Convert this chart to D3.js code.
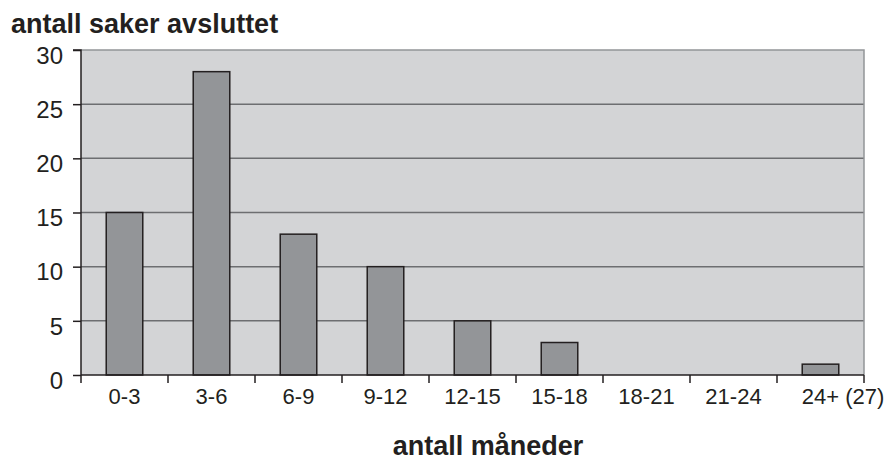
<!DOCTYPE html>
<html><head><meta charset="utf-8">
<script src="https://cdn.jsdelivr.net/npm/d3@7"></script>
<style>body{margin:0;background:#fff}svg{display:block;font-family:"Liberation Sans",Arial,sans-serif}</style>
</head><body><svg id="c" width="889" height="462"></svg>
<script>
const categories = ["0-3","3-6","6-9","9-12","12-15","15-18","18-21","21-24","24+ (27)"];
const values = [15,28,13,10,5,3,0,0,1];
const yTicks = [0,5,10,15,20,25,30];
const yTitle = "antall saker avsluttet";
const xTitle = "antall måneder";

const svg = d3.select("#c");
const L=81,R=864,T=50,B=375;
const x = d3.scaleBand().domain(categories).range([L,R]).paddingInner(0.58).paddingOuter(0.29);
const y = d3.scaleLinear().domain([0,30]).range([B,T]);

svg.append("rect").attr("x",L).attr("y",T).attr("width",R-L).attr("height",B-T).attr("fill","#d3d4d6");
svg.append("g").selectAll("line").data(yTicks.filter(d=>d>0&&d<30)).join("line")
 .attr("x1",L).attr("x2",R).attr("y1",d=>y(d)).attr("y2",d=>y(d))
 .attr("stroke","#6d6e71").attr("stroke-width",1.5);
svg.append("path").attr("d",`M${L},${y(30)}H${R}V${B}`).attr("fill","none").attr("stroke","#939598").attr("stroke-width",1.5);
svg.append("g").selectAll("rect").data(values).join("rect")
 .attr("x",(d,i)=>x(categories[i])).attr("width",x.bandwidth())
 .attr("y",d=>y(d)).attr("height",d=>y(0)-y(d))
 .attr("fill","#939598").attr("stroke","#231f20").attr("stroke-width",1.5);
const yAxis = d3.axisLeft(y).tickValues(yTicks).tickSize(8).tickPadding(10);
const gy = svg.append("g").attr("transform",`translate(${L},0)`).call(yAxis);
gy.select(".domain").attr("stroke","#231f20").attr("stroke-width",1.5).attr("d",`M-8,${y(30)}H0V${B}`);
gy.selectAll(".tick line").attr("stroke","#231f20").attr("stroke-width",1.5);
gy.selectAll(".tick text").attr("font-size",24).attr("fill","#231f20").attr("font-family","Liberation Sans, Arial, sans-serif").attr("dy","0.72em").attr("y",-4).attr("x",-18);
svg.append("line").attr("x1",L).attr("x2",R).attr("y1",B).attr("y2",B).attr("stroke","#231f20").attr("stroke-width",1.5);
const bounds = d3.range(categories.length+1).map(i=>L+i*x.step());
svg.append("g").selectAll("line").data(bounds).join("line")
 .attr("x1",d=>d).attr("x2",d=>d).attr("y1",B).attr("y2",B+8).attr("stroke","#231f20").attr("stroke-width",1.5);
const xl = svg.append("g").selectAll("text").data(categories).join("text")
 .attr("y",404).attr("font-size",22).attr("fill","#231f20").text(d=>d);
xl.each(function(d){
  const t=d3.select(this); const c = x(d)+x.bandwidth()/2;
  if(d.indexOf(" (")>0){
    const tmp = svg.append("text").attr("font-size",22).text(d.split(" ")[0]);
    const w = tmp.node().getComputedTextLength(); tmp.remove();
    t.attr("x",c-w/2).attr("text-anchor","start");
  } else t.attr("x",c).attr("text-anchor","middle");
});
svg.append("text").attr("x",11).attr("y",33).attr("font-size",27).attr("font-weight","bold").attr("fill","#231f20").text(yTitle);
svg.append("text").attr("x",488).attr("y",455).attr("text-anchor","middle").attr("font-size",27).attr("font-weight","bold").attr("fill","#231f20").text(xTitle);
</script></body></html>
